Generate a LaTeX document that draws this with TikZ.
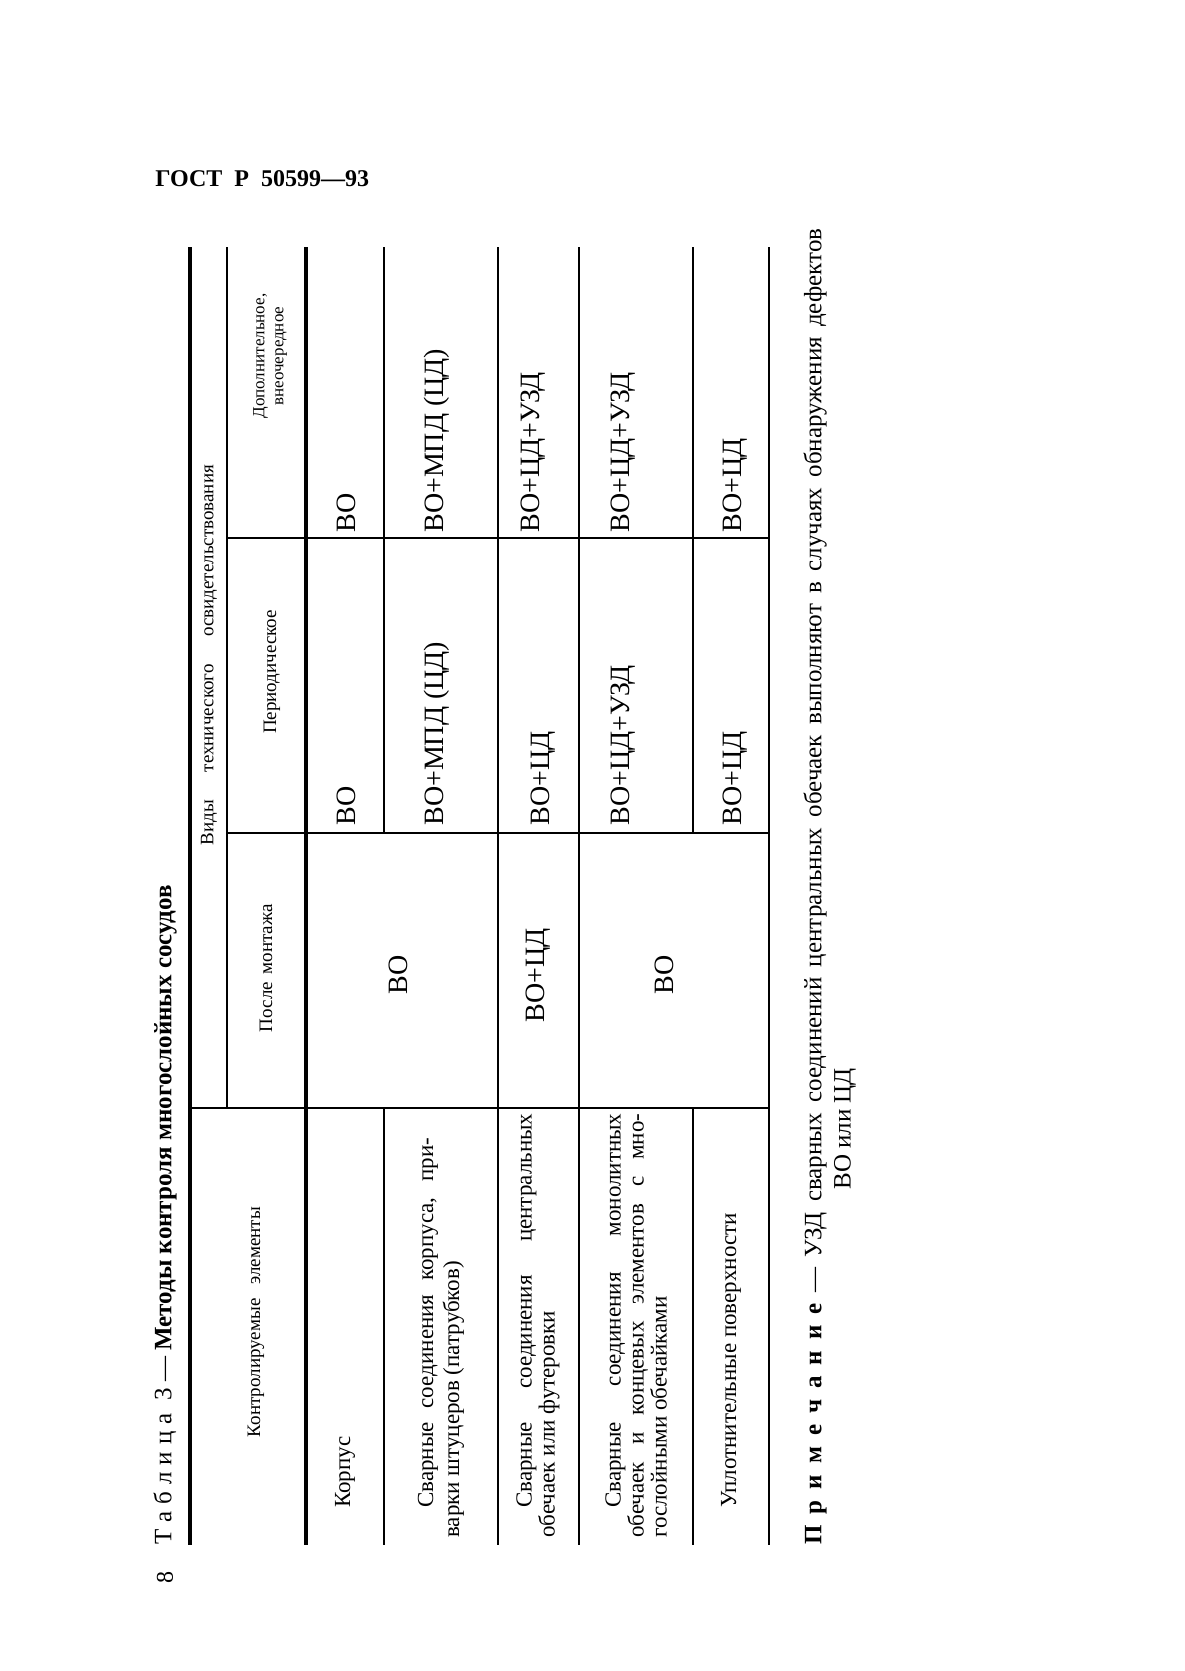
\documentclass[tikz,border=0pt]{standalone}
\usepackage{fontspec}
\setmainfont{Liberation Serif}
\usetikzlibrary{positioning}
\newcommand{\fullline}[2]{\makebox[#1][s]{#2}}
\newcommand{\spaced}{\hspace{3.5pt}}
\newcommand{\widespaced}{\hspace{5.5pt}}

\begin{document}
\begin{tikzpicture}[x=0.5pt,y=-0.5pt,
    rule/.style={line width=0.6pt},
    heavyrule/.style={line width=1.6pt},
    upright/.style={rotate=90,inner sep=0pt},
    elemtext/.style={upright,anchor=west,align=left,font=\fontsize{11.5}{11.5}\selectfont},
    headtext/.style={upright,font=\fontsize{9.5}{11}\selectfont},
    methodtext/.style={upright,anchor=west,font=\fontsize{14}{15}\selectfont}]
  \useasboundingbox[fill=white] (0,0) rectangle (1184,1671);

  \node[anchor=west,inner sep=0pt,font=\bfseries\fontsize{12}{14}\selectfont] (gost) at (155,179) {ГОСТ\ \ Р\ \ 50599—93};

  % title, page number
  \node[upright,anchor=west,font=\fontsize{12.5}{14}\selectfont] (title) at (165,1545)
    {Т\spaced а\spaced б\spaced л\spaced и\spaced ц\spaced а\ \ 3 — \textbf{Методы контроля многослойных сосудов}};
  \node[upright,font=\fontsize{12}{14}\selectfont] (pagenum) at (165,1577) {8};

  % rules
  \draw[heavyrule] (190,247) -- (190,1545);
  \draw[rule] (227,247) -- (227,1108);
  \draw[heavyrule] (306,247) -- (306,1545);
  \draw[rule] (384,247) -- (384,833);
  \draw[rule] (384,1108) -- (384,1545);
  \draw[rule] (498,247) -- (498,1545);
  \draw[rule] (579,247) -- (579,1545);
  \draw[rule] (693,247) -- (693,833);
  \draw[rule] (693,1108) -- (693,1545);
  \draw[rule] (769,247) -- (769,1545);
  \draw[rule] (190,1108) -- (769,1108);
  \draw[rule] (227,833) -- (769,833);
  \draw[rule] (227,538) -- (769,538);

  % head
  \node[headtext] (vidy) at (209,655) {\fullline{190pt}{Виды технического освидетельствования}};
  \node[headtext] (elem) at (256,1322) {\fullline{115pt}{Контролируемые элементы}};
  \node[headtext] (posle) at (266,968) {\fullline{64pt}{После монтажа}};
  \node[headtext] (period) at (272,672) {Периодическое};
  \node[headtext,align=center,font=\fontsize{8.5}{9.5}\selectfont] (dop) at (270,356) {Дополнительное,\\внеочередное};

  % elements
  \node[elemtext] (korpus) at (345,1538) {\hspace*{1.3em}Корпус};
  \node[elemtext,font=\fontsize{11.5}{13}\selectfont] (svkorp) at (441,1538)
    {\fullline{200pt}{\hspace*{1.3em}Сварные соединения корпуса, при-}\\варки штуцеров (патрубков)};
  \node[elemtext] (svcentr) at (538,1538)
    {\fullline{212pt}{\hspace*{1.3em}Сварные соединения центральных}\\обечаек или футеровки};
  \node[elemtext] (svmonol) at (636,1538)
    {\fullline{212pt}{\hspace*{1.3em}Сварные соединения монолитных}\\\fullline{212pt}{обечаек и концевых элементов с мно-}\\гослойными обечайками};
  \node[elemtext] (upl) at (731,1538) {\hspace*{1.3em}Уплотнительные поверхности};

  % after mounting
  \node[methodtext,anchor=center] (mnt1) at (398,975) {ВО};
  \node[methodtext,anchor=center] (mnt2) at (538,975) {ВО+ЦД};
  \node[methodtext,anchor=center] (mnt3) at (664,975) {ВО};

  % periodic
  \node[methodtext] (per1) at (346,826) {ВО};
  \node[methodtext] (per2) at (437,826) {ВО+МПД (ЦД)};
  \node[methodtext] (per3) at (543,826) {ВО+ЦД};
  \node[methodtext] (per4) at (623,826) {ВО+ЦД+УЗД};
  \node[methodtext] (per5) at (735,826) {ВО+ЦД};

  % additional
  \node[methodtext] (add1) at (346,533) {ВО};
  \node[methodtext] (add2) at (437,533) {ВО+МПД (ЦД)};
  \node[methodtext] (add3) at (533,533) {ВО+ЦД+УЗД};
  \node[methodtext] (add4) at (623,533) {ВО+ЦД+УЗД};
  \node[methodtext] (add5) at (735,533) {ВО+ЦД};

  % note
  \node[upright,anchor=west,font=\fontsize{12.5}{14}\selectfont] (note) at (815,1545)
    {\fullline{658pt}{\textbf{П\widespaced р\widespaced и\widespaced м\widespaced е\widespaced ч\widespaced а\widespaced н\widespaced и\widespaced е} — УЗД сварных соединений центральных обечаек выполняют в случаях обнаружения дефектов}};
  \node[upright,anchor=west,font=\fontsize{12.5}{14}\selectfont] (notecont) at (845,1190) {ВО или ЦД};
\end{tikzpicture}
\end{document}
